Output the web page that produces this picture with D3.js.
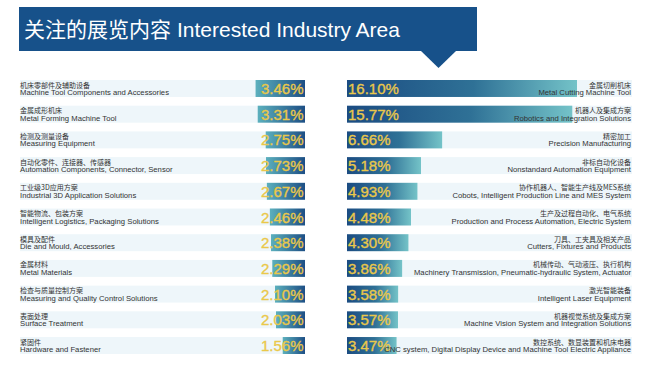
<!DOCTYPE html>
<html>
<head>
<meta charset="utf-8">
<script src="https://cdn.jsdelivr.net/npm/d3@7/dist/d3.min.js"></script>
<style>
  html, body { margin: 0; padding: 0; background: #ffffff; }
  svg { display: block; }
</style>
</head>
<body>
<svg id="chart" width="648" height="373"></svg>
<script>
const titleCn = "关注的展览内容";
const titleEn = "Interested Industry Area";

const leftCn = ["机床零部件及辅助设备", "金属成形机床", "检测及测量设备", "自动化零件、连接器、传感器", "工业级3D应用方案", "智能物流、包装方案", "模具及配件", "金属材料", "检查与质量控制方案", "表面处理", "紧固件"];
const leftEn = ["Machine Tool Components and Accessories", "Metal Forming Machine Tool", "Measuring Equipment", "Automation Components, Connector, Sensor", "Industrial 3D Application Solutions", "Intelligent Logistics, Packaging Solutions", "Die and Mould, Accessories", "Metal Materials", "Measuring and Quality Control Solutions", "Surface Treatment", "Hardware and Fastener"];
const leftVals = [3.46, 3.31, 2.75, 2.73, 2.67, 2.46, 2.38, 2.29, 2.10, 2.03, 1.56];

const rightCn = ["金属切削机床", "机器人及集成方案", "精密加工", "非标自动化设备", "协作机器人、智能生产线及MES系统", "生产及过程自动化、电气系统", "刀具、工夹具及相关产品", "机械传动、气动液压、执行机构", "激光智能装备", "机器视觉系统及集成方案", "数控系统、数显装置和机床电器"];
const rightEn = ["Metal Cutting Machine Tool", "Robotics and Integration Solutions", "Precision Manufacturing", "Nonstandard Automation Equipment", "Cobots, Intelligent Production Line and MES System", "Production and Process Automation, Electric System", "Cutters, Fixtures and Products", "Machinery Transmission, Pneumatic-hydraulic System, Actuator", "Intelligent Laser Equipment", "Machine Vision System and Integration Solutions", "CNC system, Digital Display Device and Machine Tool Electric Appliance"];
const rightVals = [16.10, 15.77, 6.66, 5.18, 4.93, 4.48, 4.30, 3.86, 3.58, 3.57, 3.47];

const svg = d3.select("#chart");
const FONT_EN = "'Liberation Sans', Arial, 'Noto Sans CJK SC', sans-serif";
const FONT_CN = "'Noto Sans CJK SC', 'Liberation Sans', sans-serif";

// gradients
const defs = svg.append("defs");
const gR = defs.append("linearGradient").attr("id", "gradR").attr("x1", "0%").attr("x2", "100%");
gR.append("stop").attr("offset", "0%").attr("stop-color", "#1b4c82");
gR.append("stop").attr("offset", "55%").attr("stop-color", "#2f7196");
gR.append("stop").attr("offset", "100%").attr("stop-color", "#74c3c8");
const gL = defs.append("linearGradient").attr("id", "gradL").attr("x1", "0%").attr("x2", "100%");
gL.append("stop").attr("offset", "0%").attr("stop-color", "#5cb0bd");
gL.append("stop").attr("offset", "100%").attr("stop-color", "#1d4f85");

// header
svg.append("rect").attr("x", 19).attr("y", 7).attr("width", 458).attr("height", 44).attr("fill", "#17518a");
svg.append("path").attr("d", "M420,50 L457,50 L438.5,68 Z").attr("fill", "#17518a");
const title = svg.append("text").attr("x", 24).attr("y", 37).attr("font-size", 21).attr("fill", "#ffffff");
title.append("tspan").attr("font-family", FONT_CN).text(titleCn);
title.append("tspan").attr("dx", 6).attr("font-family", FONT_EN).text(titleEn);

// scales
const idx = d3.range(leftVals.length);
const y = d3.scaleBand().domain(idx).range([80, 354]).paddingInner(0.34).paddingOuter(0);
const w = d3.scaleLinear().domain([0, 16.1]).range([0, 230]);

const L0 = 20, L1 = 305, R0 = 347, R1 = 632;
const VAL_COLOR = "#eac84a";

// left panel
const lg = svg.append("g");
const lr = lg.selectAll("g.row").data(idx).join("g").attr("class", "row");
lr.append("rect").attr("x", L0).attr("y", i => y(i)).attr("width", L1 - L0).attr("height", y.bandwidth()).attr("fill", "#eef6fa");
lr.append("rect").attr("x", i => L1 - w(leftVals[i])).attr("y", i => y(i)).attr("width", i => w(leftVals[i])).attr("height", y.bandwidth()).attr("fill", "url(#gradL)");
lr.append("text").attr("x", L0).attr("y", i => y(i) + 7.5).attr("font-family", FONT_CN).attr("font-size", 7).attr("fill", "#333").text(i => leftCn[i]);
lr.append("text").attr("x", L0).attr("y", i => y(i) + 15).attr("font-family", FONT_EN).attr("font-size", 7.7).attr("fill", "#333").text(i => leftEn[i]);
lr.append("text").attr("x", L1 - 1.5).attr("y", i => y(i) + 14).attr("text-anchor", "end")
  .attr("font-family", FONT_EN).attr("font-size", 15).attr("fill", VAL_COLOR)
  .attr("stroke", VAL_COLOR).attr("stroke-width", 0.35).text(i => leftVals[i].toFixed(2) + "%");

// right panel
const rg = svg.append("g");
const rr = rg.selectAll("g.row").data(idx).join("g").attr("class", "row");
rr.append("rect").attr("x", R0).attr("y", i => y(i)).attr("width", R1 - R0).attr("height", y.bandwidth()).attr("fill", "#eef6fa");
rr.append("rect").attr("x", R0).attr("y", i => y(i)).attr("width", i => w(rightVals[i])).attr("height", y.bandwidth()).attr("fill", "url(#gradR)");
rr.append("text").attr("x", R0 + 1).attr("y", i => y(i) + 14)
  .attr("font-family", FONT_EN).attr("font-size", 15).attr("fill", VAL_COLOR)
  .attr("stroke", VAL_COLOR).attr("stroke-width", 0.35).text(i => rightVals[i].toFixed(2) + "%");
rr.append("text").attr("x", R1 - 1).attr("y", i => y(i) + 7.5).attr("text-anchor", "end").attr("font-family", FONT_CN).attr("font-size", 7).attr("fill", "#333").text(i => rightCn[i]);
rr.append("text").attr("x", R1 - 1).attr("y", i => y(i) + 15).attr("text-anchor", "end").attr("font-family", FONT_EN).attr("font-size", 7.7).attr("fill", "#333").text(i => rightEn[i]);
</script>
</body>
</html>
